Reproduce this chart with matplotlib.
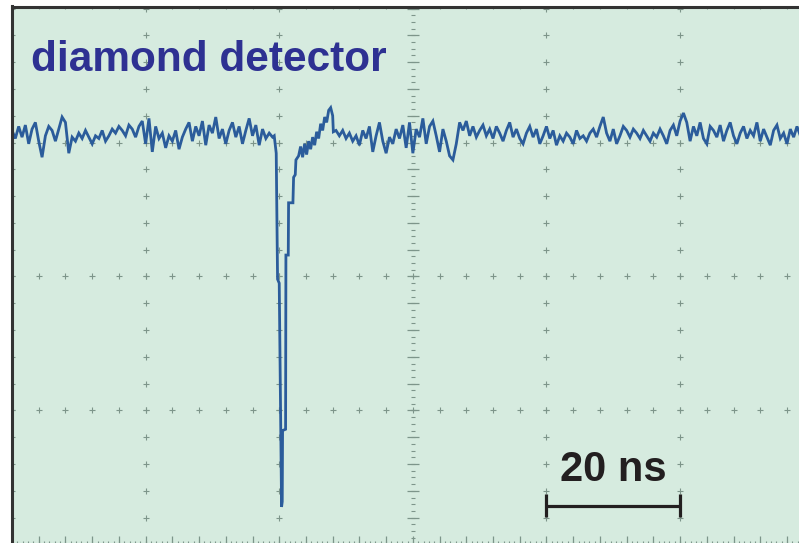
import numpy as np
import matplotlib
matplotlib.use("Agg")
import matplotlib.pyplot as plt

# scope trace, amplitude in screen divisions, time in ns
sample_step = 0.5

pre_trigger = [0.09, 0.03, 0.12, 0.04, 0.13, -0.01, 0.10, 0.15, 0.01, -0.11,
               0.05, 0.12, 0.09, 0.01, 0.10, 0.19, 0.15, -0.08, 0.04, 0.01,
               0.07, 0.03, 0.09, 0.04, -0.01, 0.05, 0.03, 0.09, 0.01, 0.05,
               0.10, 0.07, 0.12, 0.09, 0.05, 0.13, 0.10, 0.04, 0.12, 0.16,
               -0.01, 0.18, -0.07, 0.12, 0.03, 0.07, -0.04, 0.05, 0.01, 0.09,
               -0.05, 0.04, 0.10, 0.15, 0.01, 0.12, 0.05, 0.16, -0.02, 0.13,
               0.07, 0.19, 0.03, 0.10, -0.01, 0.09, 0.15, 0.04, 0.12, -0.01,
               0.09, 0.18, 0.05, 0.13, -0.02, 0.10, 0.03, 0.07, 0.04]

pulse_t = [39.25, 39.55, 39.75, 40.0, 40.35, 40.45, 40.5, 40.95, 41.0, 41.35,
           41.4, 42.05, 42.15, 42.4, 42.5, 42.9, 43.2, 43.5, 43.8, 44.1,
           44.4, 44.7, 45.0, 45.3, 45.6, 45.9, 46.2, 46.5, 46.8, 47.1,
           47.4, 47.7, 48.0, 48.1]
pulse_v = [0.05, -0.08, -1.02, -1.05, -2.72, -2.68, -2.15, -2.14, -0.84, -0.84,
           -0.45, -0.45, -0.26, -0.24, -0.13, -0.10, -0.03, -0.11, -0.01, -0.09,
           0.01, -0.05, 0.04, -0.02, 0.08, 0.03, 0.14, 0.09, 0.19, 0.15,
           0.24, 0.26, 0.20, 0.08]

post_start = 48.5
post_trigger = [0.09, 0.05, 0.09, 0.03, 0.07, 0.01, 0.05, -0.02, 0.09, 0.03,
                0.12, -0.07, 0.05, 0.15, 0.01, -0.08, 0.04, -0.01, 0.10, 0.03,
                0.13, -0.04, 0.15, -0.08, 0.10, 0.04, 0.18, -0.01, 0.12, 0.16,
                0.05, -0.07, 0.10, 0.01, -0.10, -0.13, -0.01, 0.15, 0.09, 0.16,
                0.05, 0.12, 0.04, 0.09, 0.13, 0.05, 0.10, 0.03, 0.12, 0.07,
                0.01, 0.09, 0.15, 0.04, 0.10, 0.03, -0.01, 0.07, 0.12, 0.04,
                0.10, -0.01, 0.05, 0.12, 0.03, 0.09, -0.02, 0.05, 0.01, 0.07,
                0.04, -0.01, 0.09, 0.03, 0.05, 0.01, 0.07, 0.10, 0.04, 0.12,
                0.19, 0.07, 0.01, 0.10, -0.01, 0.05, 0.12, 0.09, 0.04, 0.10,
                0.07, 0.03, 0.09, 0.05, 0.01, 0.07, 0.04, 0.10, 0.05, -0.01,
                0.09, 0.13, 0.05, 0.16, 0.22, 0.15, 0.01, 0.12, 0.05, 0.15,
                0.03, -0.01, 0.12, 0.09, 0.04, 0.13, 0.01, 0.09, 0.15, 0.05,
                -0.01, 0.07, 0.12, 0.03, 0.09, 0.05, 0.15, 0.01, 0.10, 0.04,
                -0.02, 0.09, 0.13, 0.03, 0.07, -0.01, 0.10, 0.04, 0.12, 0.05]

title_text = "diamond detector"
scale_label = "20 ns"
scale_bar_ns = [80, 100]
scale_bar_level = -2.71

ns_per_div = 20
x_max = 117.8
y_lim = (-2.989, 1.015)

pre_t = np.arange(len(pre_trigger)) * sample_step
post_t = post_start + np.arange(len(post_trigger)) * sample_step
t = np.concatenate([pre_t, pulse_t, post_t])
v = np.concatenate([pre_trigger, pulse_v, post_trigger])

screen_bg = "#d6ebdf"
grid_col = "#7d958a"
trace_col = "#2b5c9b"

fig = plt.figure(figsize=(7.99, 5.43), dpi=100)
fig.patch.set_facecolor("white")
ax = fig.add_axes([12 / 799, 0, 787 / 799, 536.5 / 543])
ax.set_facecolor(screen_bg)
ax.set_xlim(0, x_max)
ax.set_ylim(*y_lim)

# graticule: crosses on the major lines, dense ticks on the centre axes
minor_v = np.arange(-3, 1.01, 0.2)
minor_t = np.arange(0, 121, 4)
for gx in (20, 40, 80, 100):
    ax.plot([gx] * len(minor_v), minor_v, ls="none", marker="+", ms=4, mew=0.8, color=grid_col)
for gy in (0, -1, -2):
    ax.plot(minor_t, [gy] * len(minor_t), ls="none", marker="+", ms=4, mew=0.8, color=grid_col)

fine_v = np.arange(-3, 1.01, 0.05)
ax.plot([60] * len(fine_v), fine_v, ls="none", marker="_", ms=3, mew=0.8, color=grid_col)
ax.plot([60] * len(minor_v), minor_v, ls="none", marker="_", ms=8, mew=0.9, color=grid_col)
ax.plot(minor_t, [-3] * len(minor_t), ls="none", marker="|", ms=11, mew=0.9, color=grid_col)
fine_t = np.arange(0, 121, 0.8)
ax.plot(fine_t, [-3] * len(fine_t), ls="none", marker="|", ms=5, mew=0.8, color=grid_col)

# small ticks hanging off the top and left frame
ax.plot(minor_t, [y_lim[1]] * len(minor_t), ls="none", marker="|", ms=5, mew=0.8, color=grid_col)
ax.plot([0] * len(minor_v), minor_v, ls="none", marker="_", ms=5, mew=0.8, color=grid_col)

ax.plot(t, v, color=trace_col, lw=2.0, solid_joinstyle="miter")

ax.text(2.84, 0.53, title_text, color="#2e3192", fontsize=30.5,
        fontweight="bold", family="Liberation Sans", va="baseline", ha="left")

# time scale bar
ax.plot(scale_bar_ns, [scale_bar_level] * 2, color="#231f20", lw=2.3, solid_capstyle="butt")
ax.vlines(scale_bar_ns, scale_bar_level - 0.085, scale_bar_level + 0.085, color="#231f20", lw=2.3)
ax.text(np.mean(scale_bar_ns), -2.53, scale_label, color="#231f20", fontsize=30,
        fontweight="bold", family="Liberation Sans", va="baseline", ha="center")

for side in ("right", "bottom"):
    ax.spines[side].set_visible(False)
for side in ("left", "top"):
    ax.spines[side].set_color("#333333")
    ax.spines[side].set_linewidth(2.2)
ax.set_xticks([])
ax.set_yticks([])

fig.savefig("out.png", dpi=100, facecolor="white")
